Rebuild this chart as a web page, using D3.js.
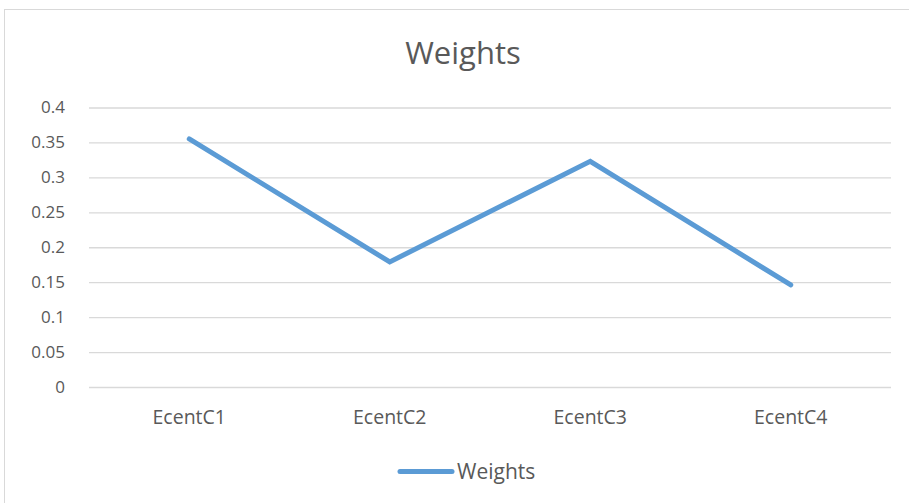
<!DOCTYPE html>
<html>
<head>
<meta charset="utf-8">
<script src="https://cdn.jsdelivr.net/npm/d3@7"></script>
<style>
  html, body { margin: 0; padding: 0; background: #fff; }
  svg { display: block; }
  text { font-family: "Open Sans", "Noto Sans", sans-serif; fill: #595959; }
</style>
</head>
<body>
<svg id="chart" width="909" height="503"></svg>
<script>
// Weight per eccentricity criterion
const categories = ["EcentC1", "EcentC2", "EcentC3", "EcentC4"];
const weights = [0.355, 0.179, 0.323, 0.146];
const yTicks = [0, 0.05, 0.1, 0.15, 0.2, 0.25, 0.3, 0.35, 0.4];
const seriesName = "Weights";
const chartTitle = "Weights";

const svg = d3.select("#chart");
const plot = { left: 89, right: 891, top: 107.5, bottom: 387 };
const lineColor = "#5B9BD5";

// chart frame
svg.append("rect")
  .attr("x", 4.5).attr("y", 9.5)
  .attr("width", 920).attr("height", 500)
  .attr("fill", "#fff").attr("stroke", "#D9D9D9").attr("stroke-width", 1);

const x = d3.scaleBand().domain(categories).range([plot.left, plot.right]);
const y = d3.scaleLinear().domain([0, 0.4]).range([plot.bottom, plot.top]);

// horizontal gridlines and value labels
const yAxis = d3.axisLeft(y)
  .tickValues(yTicks)
  .tickSize(-(plot.right - plot.left))
  .tickPadding(24)
  .tickFormat(d => d3.format("~g")(d));
const gy = svg.append("g")
  .attr("transform", `translate(${plot.left},0)`)
  .call(yAxis);
gy.select(".domain").remove();
gy.selectAll(".tick line").attr("stroke", "#D9D9D9").attr("stroke-width", 1.3);
gy.selectAll(".tick text")
  .attr("font-size", 17)
  .attr("fill", "#595959")
  .attr("font-family", "'Open Sans', sans-serif");

// category labels
const xAxis = d3.axisBottom(x).tickSize(0).tickPadding(23);
const gx = svg.append("g")
  .attr("transform", `translate(0,${plot.bottom})`)
  .call(xAxis);
gx.select(".domain").remove();
gx.selectAll(".tick text")
  .attr("font-size", 19.5)
  .attr("fill", "#595959")
  .attr("font-family", "'Open Sans', sans-serif");

// series line
const line = d3.line()
  .x((d, i) => x(categories[i]) + x.bandwidth() / 2)
  .y(d => y(d));
svg.append("path")
  .datum(weights)
  .attr("d", line)
  .attr("fill", "none")
  .attr("stroke", lineColor)
  .attr("stroke-width", 5)
  .attr("stroke-linecap", "round")
  .attr("stroke-linejoin", "miter");

// title
svg.append("text")
  .attr("x", 463).attr("y", 64)
  .attr("text-anchor", "middle")
  .attr("font-size", 31)
  .text(chartTitle);

// legend
const lg = svg.append("g");
lg.append("line")
  .attr("x1", 400).attr("x2", 452)
  .attr("y1", 471.5).attr("y2", 471.5)
  .attr("stroke", lineColor).attr("stroke-width", 5)
  .attr("stroke-linecap", "round");
lg.append("text")
  .attr("x", 457).attr("y", 479)
  .attr("font-size", 21)
  .text(seriesName);
</script>
</body>
</html>
